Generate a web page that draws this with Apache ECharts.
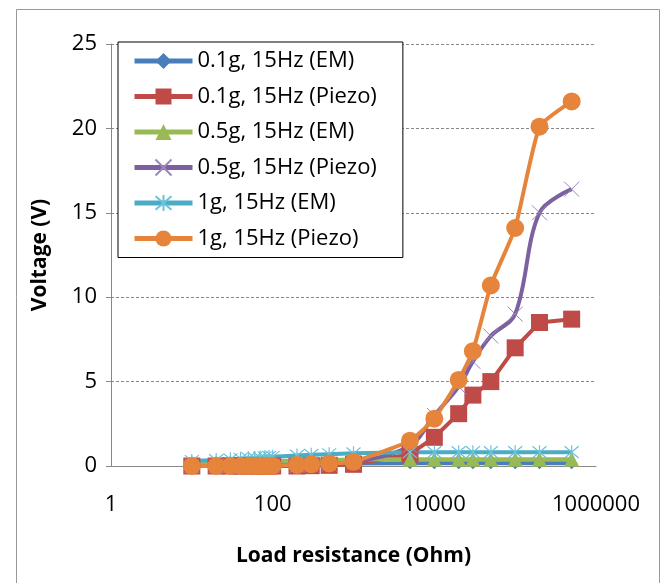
<!DOCTYPE html>
<html>
<head>
<meta charset="utf-8">
<script src="https://cdn.jsdelivr.net/npm/echarts@6/dist/echarts.min.js"></script>
<style>
html,body{margin:0;padding:0;background:#fff;}
#c{width:663px;height:583px;}
</style>
</head>
<body>
<div id="c"></div>
<script>
// Load resistance (Ohm)
var resistance = [10, 20, 30, 40, 50, 60, 70, 80, 90, 100, 200, 300, 500, 1000, 5000, 10000, 20000, 30000, 50000, 100000, 200000, 500000];

var seriesNames = ['0.1g, 15Hz (EM)', '0.1g, 15Hz (Piezo)', '0.5g, 15Hz (EM)', '0.5g, 15Hz (Piezo)', '1g, 15Hz (EM)', '1g, 15Hz (Piezo)'];

var em01 =    [0.08, 0.08, 0.09, 0.09, 0.10, 0.10, 0.10, 0.11, 0.11, 0.11, 0.12, 0.13, 0.14, 0.15, 0.17, 0.17, 0.17, 0.17, 0.17, 0.17, 0.17, 0.17];
var piezo01 = [0, 0, 0, 0, 0, 0, 0, 0, 0, 0, 0, 0.02, 0.04, 0.1, 0.7, 1.7, 3.1, 4.2, 5.0, 7.0, 8.5, 8.7];
var em05 =    [0.18, 0.2, 0.22, 0.24, 0.25, 0.26, 0.27, 0.28, 0.29, 0.3, 0.32, 0.34, 0.36, 0.38, 0.4, 0.4, 0.4, 0.4, 0.4, 0.4, 0.4, 0.4];
var piezo05 = [0, 0, 0, 0, 0, 0, 0, 0, 0, 0, 0.03, 0.06, 0.1, 0.2, 1.2, 3.0, 4.7, 6.2, 7.7, 9.0, 15.0, 16.4];
var em1 =     [0.3, 0.35, 0.4, 0.43, 0.46, 0.48, 0.5, 0.52, 0.54, 0.55, 0.62, 0.66, 0.7, 0.75, 0.82, 0.82, 0.82, 0.82, 0.82, 0.82, 0.82, 0.82];
var piezo1 =  [0, 0, 0, 0, 0, 0, 0, 0, 0, 0.02, 0.06, 0.1, 0.15, 0.25, 1.5, 2.8, 5.1, 6.8, 10.7, 14.1, 20.1, 21.6];

var xTicks = [1, 100, 10000, 1000000];
var yTicks = [0, 5, 10, 15, 20, 25];

function pairs(ys) { return resistance.map(function (r, i) { return [r, ys[i]]; }); }

var crossPath = 'path://M0,0L10,10M10,0L0,10';
var starPath = 'path://M0,0L10,10M10,0L0,10M5,-1L5,11';

var colors = ['#4A7EBB', '#BE4B48', '#98B954', '#7D60A0', '#4BACC6', '#E5843A'];
var font = '"Open Sans", Lato, "Liberation Sans", sans-serif';

function mk(name, ys, color, symbol, size, opts) {
  var s = {
    name: name, type: 'line', data: pairs(ys),
    symbol: symbol, symbolSize: size,
    lineStyle: { color: color, width: 4 },
    itemStyle: { color: color },
    smooth: false,
    z: 2
  };
  if (opts) for (var k in opts) s[k] = opts[k];
  return s;
}

var chart = echarts.init(document.getElementById('c'), null, { renderer: 'canvas' });
chart.setOption({
  animation: false,
  color: colors,
  graphic: [{
    type: 'rect', shape: { x: 16.5, y: 9.5, width: 643, height: 580 },
    style: { fill: 'none', stroke: '#999', lineWidth: 1 }, z: -1, silent: true
  }],
  grid: { left: 111, right: 67, top: 44, bottom: 117, containLabel: false },
  xAxis: {
    type: 'log', logBase: 100, min: xTicks[0], max: xTicks[xTicks.length - 1],
    name: 'Load resistance (Ohm)', nameLocation: 'middle', nameGap: 80,
    nameTextStyle: { fontFamily: font, fontWeight: 'bold', fontSize: 21, color: '#000' },
    axisLine: { lineStyle: { color: '#888', width: 1 } },
    axisTick: { show: false },
    splitLine: { show: false },
    minorTick: { show: false },
    axisLabel: { fontFamily: font, fontSize: 22, color: '#000', margin: 28,
      formatter: function (v) { return String(Math.round(v)); } }
  },
  yAxis: {
    type: 'value', min: 0, max: 25, interval: 5,
    name: 'Voltage (V)', nameLocation: 'middle', nameGap: 60, nameRotate: 90,
    nameTextStyle: { fontFamily: font, fontWeight: 'bold', fontSize: 21, color: '#000' },
    axisLine: { show: true, lineStyle: { color: '#888', width: 1 } },
    axisTick: { show: true, inside: false, length: 5, lineStyle: { color: '#888' } },
    splitLine: { show: true, lineStyle: { color: '#888', type: [3, 2], width: 1 } },
    axisLabel: { fontFamily: font, fontSize: 22, color: '#000', margin: 14,
      formatter: function (v) { return yTicks.indexOf(v) >= 0 ? String(v) : ''; } }
  },
  legend: {
    orient: 'vertical', left: 118, top: 42,
    padding: [8, 26, 8, 14],
    itemGap: 13.5, itemWidth: 58, itemHeight: 20,
    lineStyle: { width: 5 },
    backgroundColor: '#fff', borderColor: '#000', borderWidth: 1,
    textStyle: { fontFamily: font, fontSize: 22, lineHeight: 22, color: '#000' },
    data: seriesNames
  },
  series: [
    mk(seriesNames[0], em01, colors[0], 'diamond', 12),
    mk(seriesNames[1], piezo01, colors[1], 'rect', 17),
    mk(seriesNames[2], em05, colors[2], 'triangle', 15),
    mk(seriesNames[3], piezo05, colors[3], crossPath, 15, {
      smooth: 0.35,
      itemStyle: { color: 'transparent', borderColor: '#9A86C0', borderWidth: 1 }
    }),
    mk(seriesNames[4], em1, colors[4], starPath, 14, {
      itemStyle: { color: 'transparent', borderColor: '#6CC2DA', borderWidth: 1.2 }
    }),
    mk(seriesNames[5], piezo1, colors[5], 'circle', 18, { smooth: 0.15 })
  ]
});
</script>
</body>
</html>
